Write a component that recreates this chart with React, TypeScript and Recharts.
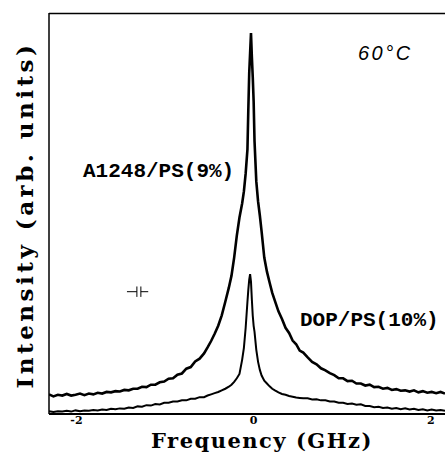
import React from 'react';
import { LineChart, Line, XAxis, YAxis, ReferenceLine } from 'recharts';

// frequency grid (GHz)
const freq = [
  -2.31, -2.26, -2.21, -2.16, -2.11, -2.06, -2.01, -1.96, -1.91, -1.86,
  -1.81, -1.76, -1.71, -1.66, -1.61, -1.56, -1.51, -1.46, -1.41, -1.36,
  -1.31, -1.26, -1.21, -1.16, -1.11, -1.06, -1.01, -0.96, -0.91, -0.86,
  -0.81, -0.76, -0.71, -0.66, -0.61, -0.56,
  -0.52, -0.48, -0.44, -0.4, -0.36, -0.32, -0.28, -0.25, -0.22, -0.19,
  -0.16, -0.13, -0.11, -0.09, -0.07, -0.06, -0.05, -0.04, -0.03, -0.02, -0.01,
  0.0, 0.01, 0.03, 0.05, 0.07, 0.09, 0.12, 0.15, 0.18, 0.21,
  0.24, 0.28, 0.32, 0.36, 0.4, 0.44, 0.48, 0.52, 0.56,
  0.61, 0.66, 0.71, 0.76, 0.81, 0.86, 0.91, 0.96, 1.01, 1.06,
  1.11, 1.16, 1.21, 1.26, 1.31, 1.36, 1.41, 1.46, 1.51, 1.56,
  1.61, 1.66, 1.71, 1.76, 1.81, 1.86, 1.91, 1.96, 2.01, 2.06,
  2.11, 2.16,
];

// A1248/PS(9%) spectrum
const a1248 = [
  4.9, 4.4, 4.8, 4.6, 5.0, 4.6, 4.8, 5.1, 4.7, 5.1,
  4.9, 5.3, 5.1, 5.5, 5.4, 5.7, 5.6, 6.0, 5.9, 6.3,
  6.3, 6.8, 6.7, 7.3, 7.3, 7.9, 8.1, 8.8, 8.9, 9.8,
  10.1, 11.3, 11.7, 13.1, 13.8, 15.1,
  16.6, 18.2, 20.0, 22.0, 24.6, 28.0, 31.5, 34.5, 39.0, 44.5,
  49.0, 52.5, 55.5, 60.0, 66.0, 76.0, 85.0, 90.0, 95.0, 89.0, 84.0,
  78.0, 68.0, 58.0, 53.0, 49.5, 45.5, 39.0, 35.5, 32.8, 30.2,
  28.2, 25.6, 23.7, 21.5, 20.2, 18.3, 17.4, 15.8, 15.3,
  14.1, 13.0, 12.4, 11.4, 10.9, 10.2, 9.7, 8.9, 8.9, 8.2,
  8.3, 7.6, 7.6, 7.1, 7.3, 6.7, 6.8, 6.3, 6.5, 6.0,
  6.2, 5.8, 5.9, 5.6, 5.9, 5.4, 5.7, 5.3, 5.5, 5.2,
  5.5, 5.1,
];

// DOP/PS(10%) spectrum
const dop = [
  0.7, 0.5, 0.7, 0.6, 0.8, 0.6, 0.9, 0.7, 0.9, 0.8,
  1.0, 0.9, 1.1, 1.0, 1.3, 1.2, 1.4, 1.3, 1.6, 1.5,
  1.9, 1.8, 2.2, 2.1, 2.5, 2.4, 2.8, 2.8, 3.1, 3.1,
  3.4, 3.4, 3.8, 3.8, 4.2, 4.2,
  4.6, 4.9, 5.2, 5.5, 5.9, 6.3, 6.8, 7.3, 8.0, 8.9,
  10.0, 13.5, 16.5, 21.5, 28.0, 31.0, 33.5, 34.9, 33.0, 28.5, 24.5,
  22.0, 20.5, 16.0, 13.0, 11.0, 9.6, 8.3, 7.6, 6.9, 6.3,
  5.9, 5.4, 5.0, 4.8, 4.5, 4.3, 4.1, 4.0, 3.9,
  3.9, 3.6, 3.7, 3.4, 3.4, 3.1, 3.1, 2.8, 2.8, 2.5,
  2.6, 2.3, 2.4, 2.0, 2.0, 1.7, 1.8, 1.5, 1.6, 1.3,
  1.5, 1.2, 1.4, 1.1, 1.3, 1.0, 1.2, 0.9, 1.1, 0.9,
  1.0, 0.8,
];

const xTicks = [-2, 0, 2];
const xDomain = [-2.31, 2.16];

// resolution marker (GHz, arb. units)
const resBars = [-1.318, -1.273];
const resLevel = 30.5;

const data = freq.map((f, i) => ({ f, a: a1248[i], d: dop[i] }));

const serif = '"DejaVu Serif", serif';
const mono = '"Liberation Mono", monospace';

export default function App() {
  return (
    <div style={{ position: 'relative', width: 445, height: 454 }}>
      <style>{`body{margin:0;background:#fff}`}</style>
      <LineChart width={445} height={454} data={data} margin={{ top: 13, right: 0, bottom: 0, left: 0 }}>
        <XAxis
          dataKey="f"
          type="number"
          domain={xDomain}
          ticks={xTicks}
          allowDataOverflow
          height={40}
          tickLine={false}
          tickSize={2}
          tickMargin={0}
          axisLine={{ stroke: '#000', strokeWidth: 2 }}
          tick={{ fill: '#000', fontSize: 11, fontWeight: 'bold', fontFamily: serif }}
        />
        <YAxis
          type="number"
          domain={[0, 100]}
          allowDataOverflow
          width={49}
          tick={false}
          tickLine={false}
          axisLine={{ stroke: '#000', strokeWidth: 1.5 }}
        />
        {resBars.map((b) => (
          <ReferenceLine
            key={b}
            segment={[{ x: b, y: resLevel - 1.3 }, { x: b, y: resLevel + 1.3 }]}
            stroke="#000"
            strokeWidth={1}
          />
        ))}
        <ReferenceLine segment={[{ x: -1.43, y: resLevel }, { x: resBars[0], y: resLevel }]} stroke="#000" strokeWidth={1} />
        <ReferenceLine segment={[{ x: resBars[1], y: resLevel }, { x: -1.19, y: resLevel }]} stroke="#000" strokeWidth={1} />
        <Line type="linear" dataKey="a" stroke="#000" strokeWidth={2.6} dot={false} isAnimationActive={false} />
        <Line type="linear" dataKey="d" stroke="#000" strokeWidth={2} dot={false} isAnimationActive={false} />
      </LineChart>
      <svg width={445} height={454} style={{ position: 'absolute', left: 0, top: 0, pointerEvents: 'none' }}>
        {/* top frame of the plot box */}
        <line x1={49} y1={13.5} x2={445} y2={13.5} stroke="#000" strokeWidth={1.5} />
        <text x={358} y={60} fontFamily='"Liberation Sans", sans-serif' fontStyle="italic" fontSize={20} letterSpacing={2.5} fill="#000">
          60°C
        </text>
        <text x={83} y={177} fontFamily={mono} fontWeight="bold" fontSize={21} fill="#000">
          A1248/PS(9%)
        </text>
        <text x={300} y={326} fontFamily={mono} fontWeight="bold" fontSize={21} fill="#000">
          DOP/PS(10%)
        </text>
        <text x={262} y={448} textAnchor="middle" fontFamily={serif} fontWeight="bold" fontSize={21} letterSpacing={1.5} fill="#000">
          Frequency (GHz)
        </text>
        <text
          x={33}
          y={215}
          textAnchor="middle"
          transform="rotate(-90 33 215)"
          fontFamily={serif}
          fontWeight="bold"
          fontSize={23}
          letterSpacing={3.5}
          fill="#000"
        >
          Intensity (arb. units)
        </text>
      </svg>
    </div>
  );
}
